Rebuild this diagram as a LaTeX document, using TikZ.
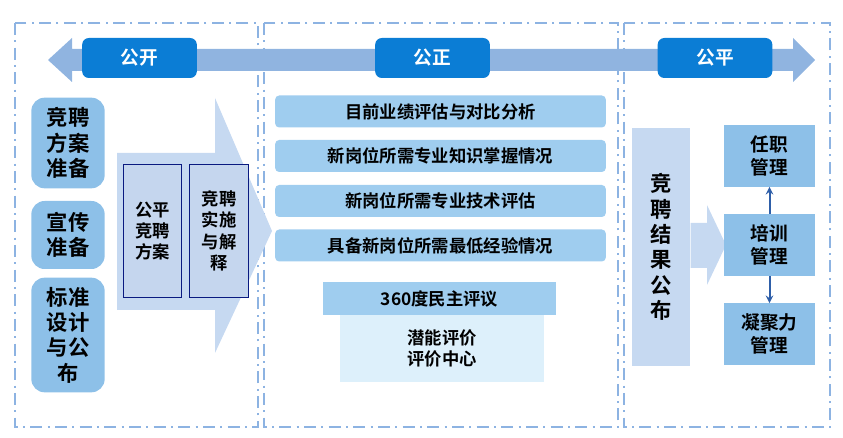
\documentclass[tikz,border=0pt]{standalone}
\usepackage{fontspec}
\setmainfont{Noto Sans CJK SC Bold}
\begin{document}
\begin{tikzpicture}[x=0.75pt,y=-0.75pt,
 panel/.style={draw=panelc, line width=2pt, dash pattern=on 9pt off 4pt on 1.5pt off 4pt},
 tag/.style={fill=tagblue, rounded corners=5pt, text=white, font=\fontsize{14}{16}\selectfont, minimum width=86pt, minimum height=30pt, inner sep=0pt},
 lbox/.style={fill=boxblue, rounded corners=10pt, font=\fontsize{16}{19}\selectfont, align=center, inner sep=0pt, minimum width=55pt},
 bar/.style={fill=barblue, rounded corners=3pt, font=\fontsize{13}{15}\selectfont, minimum width=248pt, minimum height=24pt, inner sep=0pt},
 ibox/.style={fill=inblue, draw=navy, line width=0.6pt, font=\fontsize{13}{16}\selectfont, align=center, minimum width=44pt, minimum height=100pt, inner sep=0pt},
 rbox/.style={fill=boxblue, font=\fontsize{14}{17}\selectfont, align=center, minimum width=68pt, minimum height=46pt, inner sep=0pt},
 conn/.style={draw=connblue, line width=1.5pt, ->, >=stealth}]
\definecolor{panelc}{HTML}{8DB3E2}
\definecolor{tagblue}{HTML}{0B7DD5}
\definecolor{boxblue}{HTML}{8DC0E8}
\definecolor{barblue}{HTML}{9FCDEF}
\definecolor{inblue}{HTML}{C5D6EE}
\definecolor{navy}{HTML}{0A1A80}
\definecolor{lightarr}{HTML}{C6D9F1}
\definecolor{bigarr}{HTML}{90B4E0}
\definecolor{connblue}{HTML}{2E5EA8}
\definecolor{pale}{HTML}{DDF0FB}
\useasboundingbox (0,0) rectangle (843,438);
% panels
\draw[panel] (15,23) rectangle (258,427);
\draw[panel] (264,23) rectangle (618,427);
\draw[panel] (624,23) rectangle (830,427);
% big double arrow
\fill[bigarr] (48,60) -- (72,38) -- (72,49) -- (793,49) -- (793,38) -- (815,60) -- (793,82) -- (793,71) -- (72,71) -- (72,82) -- cycle;
\node[tag] (t1) at (139.5,58) {公开};
\node[tag] (t2) at (432.5,58) {公正};
\node[tag] (t3) at (715,58) {公平};
% left boxes
\node[lbox, minimum height=68pt] (l1) at (68,143) {竞聘\\方案\\准备};
\node[lbox, minimum height=51pt] (l2) at (68,235) {宣传\\准备};
\node[lbox, minimum height=86pt] (l3) at (68,335) {标准\\设计\\与公\\布};
% big light arrow
\fill[lightarr] (117,153) -- (215,153) -- (215,98) -- (272,231) -- (215,353) -- (215,310) -- (117,310) -- cycle;
\node[ibox] (i1) at (152.5,231) {公平\\竞聘\\方案};
\node[ibox] (i2) at (219,231) {竞聘\\实施\\与解\\释};
% middle bars
\node[bar] (b1) at (440.5,111.5) {目前业绩评估与对比分析};
\node[bar] (b2) at (440.5,156) {新岗位所需专业知识掌握情况};
\node[bar] (b3) at (440.5,201) {新岗位所需专业技术评估};
\node[bar] (b4) at (440.5,245.5) {具备新岗位所需最低经验情况};
\node[fill=barblue, minimum width=175pt, minimum height=25pt, inner sep=0pt, font=\fontsize{13}{15}\selectfont] (m1) at (439.5,298.5) {360度民主评议};
\node[fill=pale, minimum width=153pt, minimum height=50pt, inner sep=0pt, align=center, font=\fontsize{13}{16}\selectfont] (m2) at (442,348.5) {潜能评价\\评价中心};
% right side
\node[fill=lightarr, minimum width=44pt, minimum height=178pt, inner sep=0pt, align=center, font=\fontsize{16}{19}\selectfont] (res) at (661,247) {竞\\聘\\结\\果\\公\\布};
\fill[lightarr] (res.east |- 0,223) -- (707,223) -- (707,205) -- (726,245) -- (707,285) -- (707,268) -- (res.east |- 0,268) -- cycle;
\node[rbox] (r1) at (769.5,156) {任职\\管理};
\node[rbox] (r2) at (769.5,245) {培训\\管理};
\node[rbox] (r3) at (769.5,334) {凝聚力\\管理};
\draw[conn] (r2) -- (r1);
\draw[conn] (r2) -- (r3);
\end{tikzpicture}
\end{document}
